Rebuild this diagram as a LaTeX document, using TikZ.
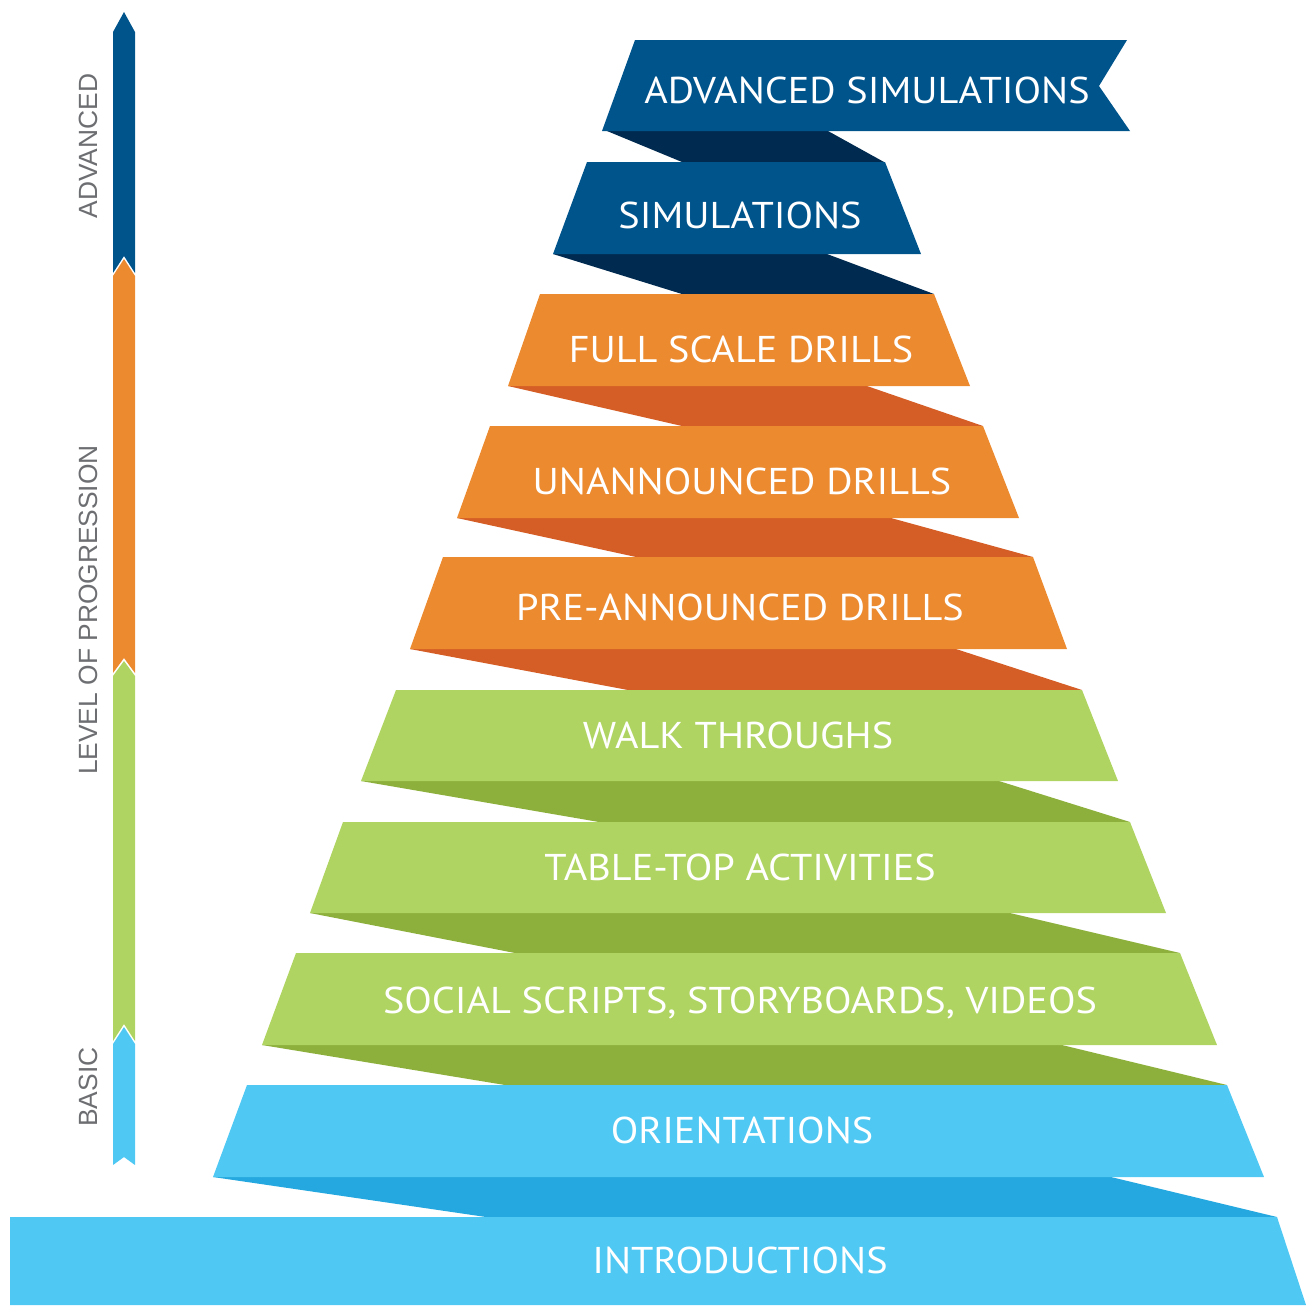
\documentclass[tikz,border=0pt]{standalone}
\usepackage{fontspec}
\setmainfont[FakeStretch=1.08]{PT Sans}
\newfontfamily\sidefont{Liberation Sans}
\usepackage{color}

\definecolor{navyband}{RGB}{0,84,140}
\definecolor{navyfold}{RGB}{0,42,80}
\definecolor{orangeband}{RGB}{236,138,48}
\definecolor{orangefold}{RGB}{213,94,38}
\definecolor{greenband}{RGB}{176,212,98}
\definecolor{greenfold}{RGB}{141,176,61}
\definecolor{blueband}{RGB}{79,200,244}
\definecolor{bluefold}{RGB}{37,168,223}
\definecolor{scalegray}{RGB}{109,110,113}

\tikzset{
  steplabel/.style={text=white, anchor=base, inner sep=0pt,
    font=\fontsize{10.6}{12}\selectfont},
  sidelabel/.style={text=scalegray, rotate=90, inner sep=0pt,
    text height=5.4pt, text depth=0pt, font=\sidefont\fontsize{7.5}{8}\selectfont},
}

\begin{document}
\begin{tikzpicture}[x=0.01cm, y=-0.01cm]
  \useasboundingbox (0,0) rectangle (1306,1305);

  % folds behind the bands
  \fill[navyfold] (607,131) -- (828,131) -- (884,162) -- (682,162) -- cycle;
  \fill[navyfold] (553,254) -- (827,254) -- (934,294) -- (682,294) -- cycle;
  \fill[orangefold] (508,386) -- (867,386) -- (983,426) -- (682,426) -- cycle;
  \fill[orangefold] (457,518) -- (891,518) -- (1033,557) -- (636,557) -- cycle;
  \fill[orangefold] (410,649) -- (956,649) -- (1082,690) -- (628,690) -- cycle;
  \fill[greenfold] (361,781) -- (999,781) -- (1130,822) -- (599,822) -- cycle;
  \fill[greenfold] (310,913) -- (1010,913) -- (1180,953) -- (515,953) -- cycle;
  \fill[greenfold] (262,1045) -- (1062,1045) -- (1227,1085) -- (505,1085) -- cycle;
  \fill[bluefold] (213,1177) -- (1111,1177) -- (1277,1217) -- (486,1217) -- cycle;

  % bands
  \fill[navyband] (635,40) -- (1127,40) -- (1099,86) -- (1130,131) -- (602,131) -- cycle;
  \fill[navyband] (587,162) -- (885,162) -- (921,254) -- (553,254) -- cycle;
  \fill[orangeband] (540,294) -- (934,294) -- (970,386) -- (508,386) -- cycle;
  \fill[orangeband] (490,426) -- (983,426) -- (1019,518) -- (457,518) -- cycle;
  \fill[orangeband] (443,557) -- (1033,557) -- (1067,649) -- (410,649) -- cycle;
  \fill[greenband] (396,690) -- (1082,690) -- (1118,781) -- (361,781) -- cycle;
  \fill[greenband] (343,822) -- (1130,822) -- (1166,913) -- (310,913) -- cycle;
  \fill[greenband] (296,953) -- (1180,953) -- (1217,1045) -- (262,1045) -- cycle;
  \fill[blueband] (247,1085) -- (1227,1085) -- (1264,1177) -- (213,1177) -- cycle;
  \fill[blueband] (10,1217) -- (1277,1217) -- (1306,1305) -- (10,1305) -- cycle;

  \node[steplabel] (advsim) at (867,103) {ADVANCED SIMULATIONS};
  \node[steplabel] (sim) at (740,228) {SIMULATIONS};
  \node[steplabel] (fulldrills) at (741,362) {FULL SCALE DRILLS};
  \node[steplabel] (unanndrills) at (742,494) {UNANNOUNCED DRILLS};
  \node[steplabel] (preanndrills) at (740,620) {PRE-ANNOUNCED DRILLS};
  \node[steplabel] (walk) at (738,748) {WALK THROUGHS};
  \node[steplabel] (tabletop) at (740,880) {TABLE-TOP ACTIVITIES};
  \node[steplabel] (social) at (740,1013) {SOCIAL SCRIPTS, STORYBOARDS, VIDEOS};
  \node[steplabel] (orient) at (742,1143) {ORIENTATIONS};
  \node[steplabel] (intro) at (740,1273) {INTRODUCTIONS};

  % level of progression scale
  \fill[navyband] (113,32) -- (124,12) -- (135,32) -- (135,273) -- (124,256) -- (113,273) -- cycle;
  \fill[orangeband] (113,276) -- (124,259) -- (135,276) -- (135,673) -- (124,658) -- (113,673) -- cycle;
  \fill[greenband] (113,676) -- (124,661) -- (135,676) -- (135,1041) -- (124,1024) -- (113,1041) -- cycle;
  \fill[blueband] (113,1044) -- (124,1027) -- (135,1044) -- (135,1165) -- (124,1157) -- (113,1165) -- cycle;

  \node[sidelabel] (advanced) at (88,146) {ADVANCED};
  \node[sidelabel] (level) at (88,610) {LEVEL OF PROGRESSION};
  \node[sidelabel] (basic) at (88,1087) {BASIC};
\end{tikzpicture}
\end{document}
